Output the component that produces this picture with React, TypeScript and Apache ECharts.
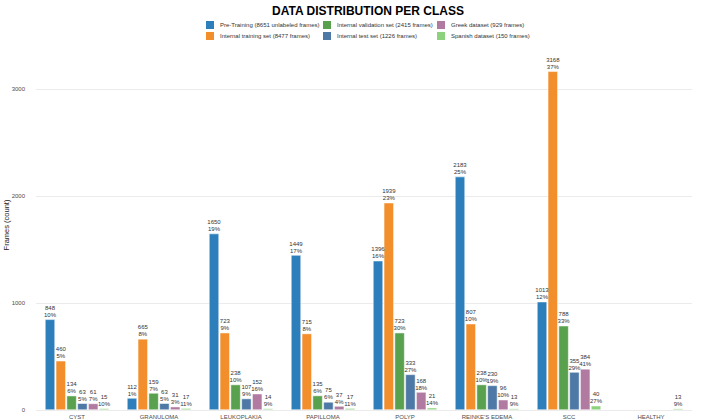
import React, { useEffect, useRef } from "react";
import * as echarts from "echarts";

const categories = ["CYST", "GRANULOMA", "LEUKOPLAKIA", "PAPILLOMA", "POLYP", "REINKE'S EDEMA", "SCC", "HEALTHY"];
const seriesNames = [
  "Pre-Training (8651 unlabeled frames)",
  "Internal training set (8477 frames)",
  "Internal validation set (2415 frames)",
  "Internal test set (1226 frames)",
  "Greek dataset (929 frames)",
  "Spanish dataset (150 frames)",
];
const preTraining = [848, 112, 1650, 1449, 1396, 2183, 1013, null];
const internalTraining = [460, 665, 723, 715, 1939, 807, 3168, null];
const internalValidation = [134, 159, 238, 135, 723, 238, 788, null];
const internalTest = [63, 63, 107, 75, 333, 230, 355, null];
const greek = [61, 31, 152, 37, 168, 96, 384, null];
const spanish = [15, 17, 14, 17, 21, 13, 40, 13];
const totals = [8651, 8477, 2415, 1226, 929, 150];
const colors = ["#2C7FBB", "#F28E2B", "#59A14F", "#4E79A7", "#B07AA1", "#8CD17D"];
const yTicks = [0, 1000, 2000, 3000];

export default function App() {
  const ref = useRef<HTMLDivElement>(null);
  useEffect(() => {
    if (!ref.current) return;
    const chart = echarts.init(ref.current, null, { renderer: "svg" });
    const allData = [preTraining, internalTraining, internalValidation, internalTest, greek, spanish];
    const series = allData.map((d, i) => ({
      name: seriesNames[i],
      type: "bar",
      data: d.map((v) => (v === null ? "-" : v)),
      barWidth: 10,
      barGap: "8%",
      itemStyle: { color: colors[i], borderColor: "#ffffff", borderWidth: 0.5 },
      label: {
        show: true,
        position: "top",
        distance: 1,
        fontSize: 6,
        lineHeight: 7,
        color: "#333333",
        fontFamily: "Liberation Sans, Arial, sans-serif",
        formatter: (p: any) => `${p.value}\n${Math.round((p.value / totals[i]) * 100)}%`,
      },
    }));
    const legendLefts = [204, 204, 321, 321, 435, 435];
    const legendTops = [19, 30, 19, 30, 19, 30];
    chart.setOption({
      animation: false,
      backgroundColor: "#ffffff",
      title: {
        text: "DATA DISTRIBUTION PER CLASS",
        left: 363,
        textAlign: "center",
        top: 0,
        textStyle: { fontSize: 12, fontWeight: "bold", color: "#000000", fontFamily: "Liberation Sans, Arial, sans-serif" },
      },
      legend: seriesNames.map((n, i) => ({
        data: [n],
        orient: "vertical",
        left: legendLefts[i],
        top: legendTops[i],
        itemWidth: 10,
        itemHeight: 10,
        itemGap: 0,
        icon: "rect",
        textStyle: { fontSize: 6, color: "#333333", fontFamily: "Liberation Sans, Arial, sans-serif" },
        padding: 0,
      })),
      grid: { left: 36, right: 10, top: 54, bottom: 10, containLabel: false },
      xAxis: {
        type: "category",
        data: categories,
        axisLine: { show: false },
        axisTick: { show: false },
        axisLabel: { fontSize: 6, color: "#4D4D4D", margin: 4, fontFamily: "Liberation Sans, Arial, sans-serif", interval: 0 },
      },
      yAxis: {
        type: "value",
        min: 0,
        max: 3330,
        interval: 1000,
        axisLine: { show: false },
        axisTick: { show: false },
        splitLine: { show: true, showMaxLine: false, lineStyle: { color: "#EBEBEB", width: 1 } },
        axisLabel: {
          fontSize: 6,
          color: "#4D4D4D",
          margin: 11,
          showMaxLabel: false,
          fontFamily: "Liberation Sans, Arial, sans-serif",
          formatter: (v: number) => (yTicks.includes(v) ? String(v) : ""),
        },
      },
      graphic: [
        {
          type: "text",
          x: 6,
          y: 225,
          rotation: Math.PI / 2,
          style: {
            text: "Frames (count)",
            fontSize: 7.5,
            fill: "#222222",
            align: "center",
            verticalAlign: "middle",
            fontFamily: "Liberation Sans, Arial, sans-serif",
          },
        },
      ],
      series,
    });
    return () => chart.dispose();
  }, []);
  return <div ref={ref} style={{ width: 702, height: 420, position: "absolute", left: 0, top: 0 }} />;
}
